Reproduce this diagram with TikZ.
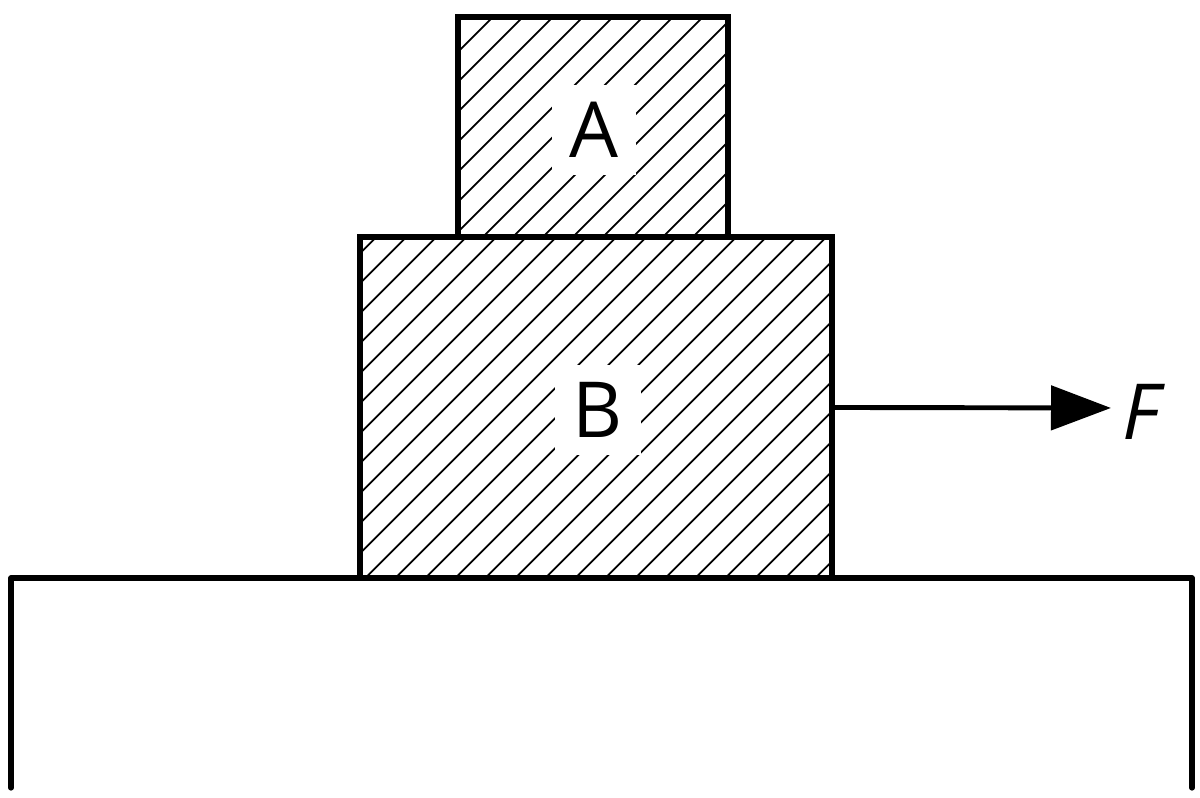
\documentclass[tikz,border=0pt]{standalone}
\usepackage{fontspec}
\setmainfont{Open Sans}
\usetikzlibrary{arrows.meta}
\tikzset{
  hatch/.style={line width=0.5pt},
  block/.style={draw, line width=1.5pt, inner sep=0pt,
    path picture={\foreach \k in {-40,...,40} \draw[hatch] (\k*0.3,-6) -- ++(12,12);}},
  tag/.style={fill=white, inner sep=5pt, font=\fontsize{22}{26}\selectfont},
  force/.style={line width=1.4pt, -{Triangle[length=6mm,width=4.4mm]}}
}
\begin{document}
\begin{tikzpicture}
	\useasboundingbox (0,0) rectangle (12,7.98);
	% table
	\draw[line width=1.5pt, line cap=round, line join=round] (0.11,0.10) -- (0.11,2.20) -- (11.92,2.20) -- (11.92,0.10);
	% blocks
	\node[block, minimum width=4.72cm, minimum height=3.41cm] (B) at (5.96,3.905) {};
	\node[block, minimum width=2.70cm, minimum height=2.20cm] (A) at (5.93,6.71) {};
	\node[tag] (labA) at (5.94,6.68) {A};
	\node[tag] (labB) at (5.98,3.88) {B};
	% force
	\coordinate (tip) at (11.11,3.90);
	\draw[force] (B.east) -- (tip);
	\node[anchor=west, inner sep=0pt, font=\fontsize{22}{26}\selectfont\itshape] (F) at (11.22,3.86) {F};
\end{tikzpicture}
\end{document}
